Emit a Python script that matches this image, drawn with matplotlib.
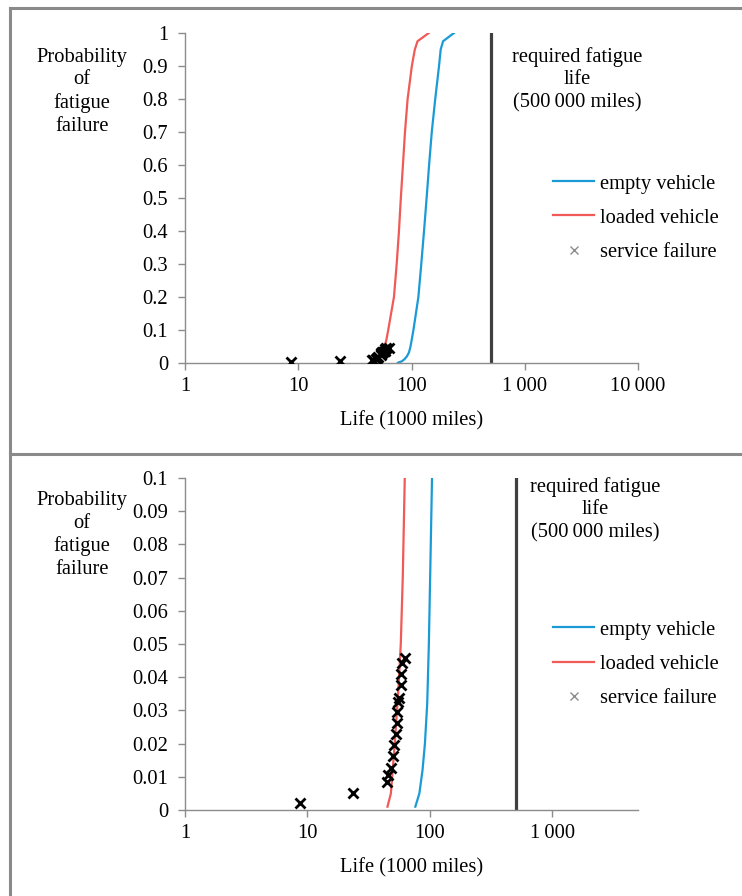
import numpy as np
import matplotlib.pyplot as plt
from matplotlib.lines import Line2D

plt.rcParams['font.family'] = ['Liberation Serif', 'DejaVu Serif']

# empty vehicle: life (1000 miles) vs probability of fatigue failure
life_empty = [76, 82, 87, 91, 95, 98, 101, 104, 115, 122, 129, 136, 143, 151, 162, 175, 181, 190, 237]
prob_empty = [0.001, 0.005, 0.012, 0.02, 0.032, 0.05, 0.075, 0.1, 0.2, 0.3, 0.4, 0.5, 0.6, 0.7, 0.8, 0.9, 0.95, 0.975, 1.0]

# loaded vehicle
life_loaded = [45, 48, 51.6, 55, 57.8, 60, 62.3, 70, 74, 77.5, 80.5, 84, 87.6, 92.4, 100.7, 107, 113, 142]
prob_loaded = [0.001, 0.005, 0.02, 0.035, 0.05, 0.07, 0.1, 0.2, 0.3, 0.4, 0.5, 0.6, 0.7, 0.8, 0.9, 0.95, 0.975, 1.0]

# service failures
life_service = [8.7, 23.6, 45.0, 45.6, 48.5, 50.0, 51.0, 53.3, 54.3, 54.3, 55.0, 55.6, 58.5, 58.5, 59.3, 63.1]
prob_service = [0.002, 0.0052, 0.0085, 0.0105, 0.0126, 0.0163, 0.0196, 0.0228, 0.0261, 0.0296,
                0.0326, 0.0338, 0.0377, 0.041, 0.0444, 0.0457]

required_life = 500

W, H = 742, 896
fig = plt.figure(figsize=(W / 100, H / 100), dpi=100)

blue = '#1b9bd6'
red = '#f05a57'
grey = '#8c8c8c'
fs = 14.8


def px_axes(x0, y0, x1, y1):
    return fig.add_axes([x0 / W, 1 - y1 / H, (x1 - x0) / W, (y1 - y0) / H])


def draw_panel(ax, ymax, yticks, ylabels, xmax, xticks, xlabels, leg_y, note_x, note_y, ylab_y):
    ax.plot(life_empty, prob_empty, color=blue, lw=1.6)
    ax.plot(life_loaded, prob_loaded, color=red, lw=1.6)
    ax.plot(life_service, prob_service, 'x', color='black', ms=7, mew=2, zorder=5)
    ax.plot([required_life, required_life], [0, ymax], color='#404040', lw=2.3)
    ax.set_xscale('log')
    ax.set_xlim(1, xmax)
    ax.set_ylim(0, ymax)
    ax.set_xticks(xticks)
    ax.set_xticklabels(xlabels)
    ax.xaxis.set_minor_locator(plt.NullLocator())
    ax.set_yticks(yticks)
    ax.set_yticklabels(ylabels)
    for s in ['top', 'right']:
        ax.spines[s].set_visible(False)
    for s in ['left', 'bottom']:
        ax.spines[s].set_color(grey)
        ax.spines[s].set_linewidth(1)
    ax.tick_params(axis='both', colors=grey, labelcolor='black', labelsize=fs, length=5, width=1)
    ax.tick_params(axis='y', pad=7)
    ax.tick_params(axis='x', pad=5)
    ax.set_xlabel('Life (1000 miles)', fontsize=fs, labelpad=11)
    ax.patch.set_alpha(0)

    fig.text(82 / W, 1 - ylab_y / H, 'Probability\nof\nfatigue\nfailure', ha='center', va='top',
             fontsize=fs, linespacing=1.25)
    fig.text(note_x / W, 1 - note_y / H, 'required fatigue\nlife\n(500\u2009000 miles)', ha='center', va='top',
             fontsize=fs, linespacing=1.25)

    handles = [Line2D([], [], color=blue, lw=1.6),
               Line2D([], [], color=red, lw=1.6),
               Line2D([], [], ls='none', marker='x', color=grey, ms=6, mew=1)]
    ax.legend(handles, ['empty vehicle', 'loaded vehicle', 'service failure'],
              loc='center left', bbox_to_anchor=(553 / W, 1 - leg_y / H), bbox_transform=fig.transFigure,
              frameon=False, fontsize=fs, handlelength=2.0, handletextpad=0.3, labelspacing=0.72,
              borderpad=0, borderaxespad=0)


ax1 = px_axes(185, 33, 638, 363)
draw_panel(ax1, 1.0, np.arange(0, 1.01, 0.1), ['0'] + ['%.1f' % v for v in np.arange(0.1, 0.95, 0.1)] + ['1'],
           10000, [1, 10, 100, 1000, 10000], ['1', '10', '100', '1\u2009000', '10\u2009000'],
           218, 577, 47, 48)

ax2 = px_axes(185, 478, 638, 810)
draw_panel(ax2, 0.1, np.arange(0, 0.101, 0.01), ['0'] + ['%.2f' % v for v in np.arange(0.01, 0.095, 0.01)] + ['0.1'],
           5000, [1, 10, 100, 1000], ['1', '10', '100', '1\u2009000'],
           664, 595, 477, 491)

# panel frames
frame_kw = dict(color='#8a8a8a', lw=2.2, transform=fig.transFigure)
fig.add_artist(Line2D([10 / W, 1], [1 - 8 / H, 1 - 8 / H], **frame_kw))
fig.add_artist(Line2D([10 / W, 1], [1 - 454 / H, 1 - 454 / H], **frame_kw))
fig.add_artist(Line2D([10 / W, 10 / W], [0, 1 - 8 / H], **frame_kw))

fig.savefig('out.png', dpi=100)
